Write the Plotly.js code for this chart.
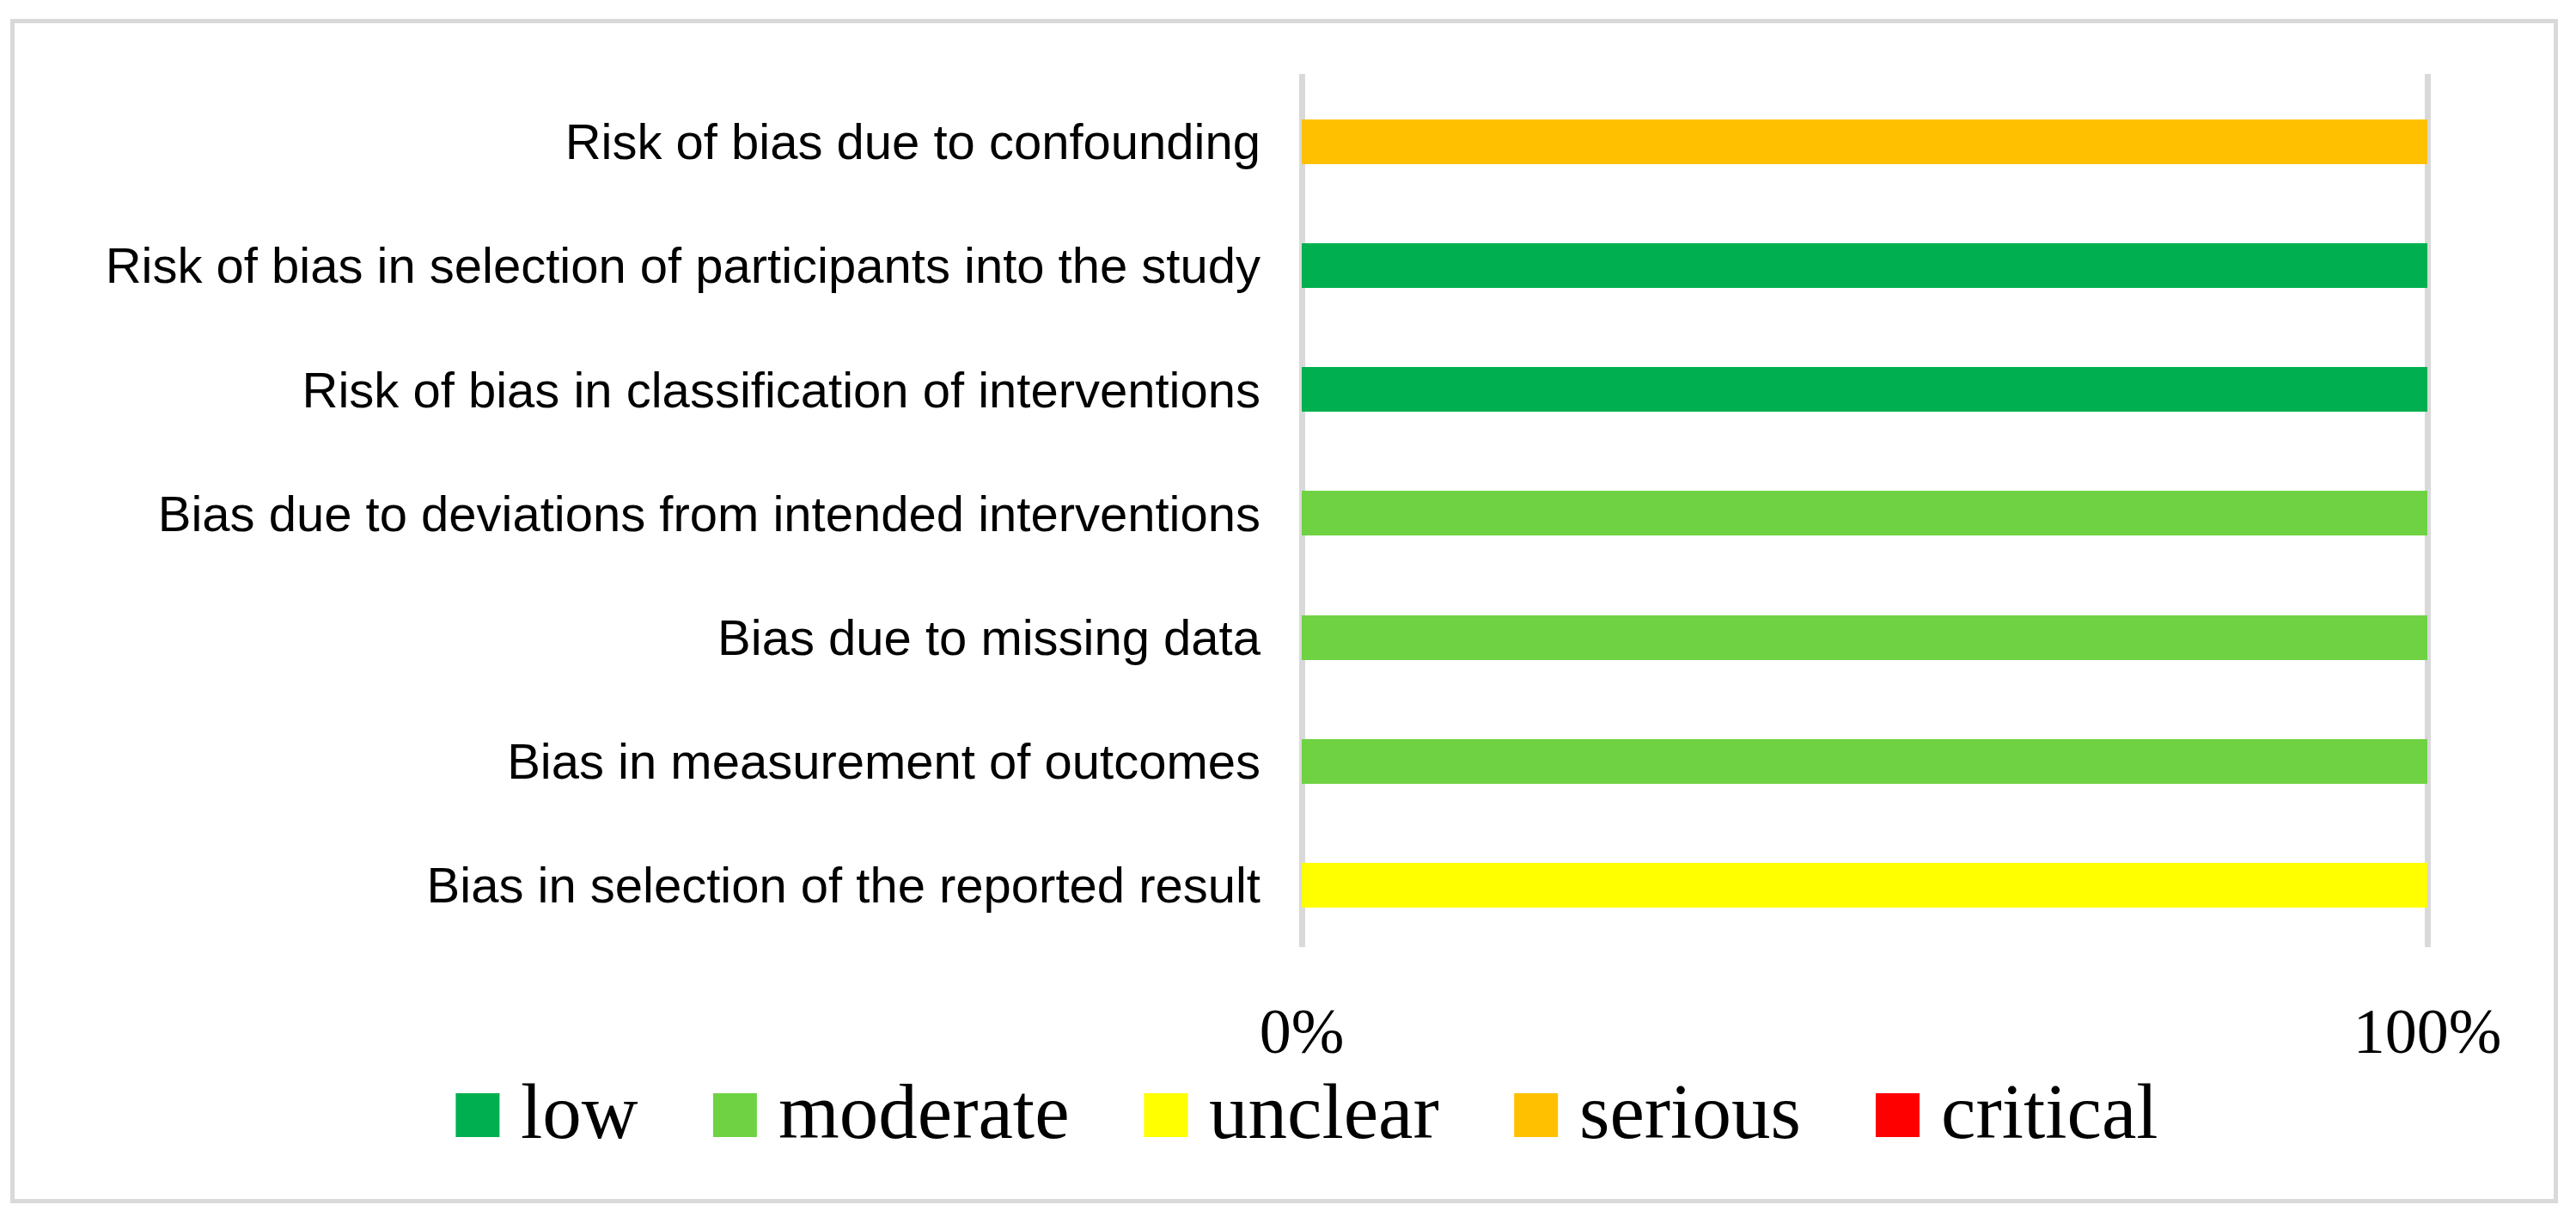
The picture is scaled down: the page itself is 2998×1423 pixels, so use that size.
<!DOCTYPE html>
<html>
<head>
<meta charset="utf-8">
<script src="https://cdn.plot.ly/plotly-3.0.1.min.js"></script>
<style>
  html, body { margin: 0; padding: 0; background: #ffffff; }
  #chart { width: 2998px; height: 1423px; }
</style>
</head>
<body>
<div id="chart"></div>
<script>
// ---- data ----
const categories = [
  "Risk of bias due to confounding",
  "Risk of bias in selection of participants into the study",
  "Risk of bias in classification of interventions",
  "Bias due to deviations from intended interventions",
  "Bias due to missing data",
  "Bias in measurement of outcomes",
  "Bias in selection of the reported result"
];
const seriesNames = ["low", "moderate", "unclear", "serious", "critical"];
const low      = [0, 100, 100, 0, 0, 0, 0];
const moderate = [0, 0, 0, 100, 100, 100, 0];
const unclear  = [0, 0, 0, 0, 0, 0, 100];
const serious  = [100, 0, 0, 0, 0, 0, 0];
const critical = [0, 0, 0, 0, 0, 0, 0];
const tickValues = [0, 100];
const tickLabels = ["0%", "100%"];

// ---- styles ----
const seriesValues = [low, moderate, unclear, serious, critical];
const seriesColors = ["#00b050", "#6fd243", "#ffff00", "#ffc000", "#ff0000"];

const W = 2998, H = 1423;
const plotL = 1505, plotR = 2835, plotT = 86, plotB = 1102;
const pw = plotR - plotL, ph = plotB - plotT;
const px2x = p => (p - plotL) / pw;
const px2y = p => (plotB - p) / ph;

const traces = seriesNames.map((name, i) => ({
  type: "bar",
  orientation: "h",
  name: name,
  y: categories,
  x: seriesValues[i],
  marker: { color: seriesColors[i], line: { width: 0 } },
  width: 0.36,
  showlegend: false,
  hoverinfo: "name+x"
}));

// ---- custom legend (large squares like the original) ----
const legFont = "Liberation Serif";
const legSize = 91;
const cv = document.createElement("canvas").getContext("2d");
cv.font = legSize + "px '" + legFont + "'";
const sq = 51, sqGap = 24, itemGap = 88;
const widths = seriesNames.map(n => cv.measureText(n).width);
let total = 0;
widths.forEach((w, i) => { total += sq + sqGap + w + (i < widths.length - 1 ? itemGap : 0); });
let cx = 1520.5 - total / 2;
const shapes = [];
const annotations = [];
const sqTop = 1272, sqBot = 1323, textMid = 1293;
seriesNames.forEach((n, i) => {
  shapes.push({
    type: "rect", xref: "paper", yref: "paper",
    x0: px2x(cx), x1: px2x(cx + sq), y0: px2y(sqBot), y1: px2y(sqTop),
    fillcolor: seriesColors[i], line: { width: 0 }, layer: "above"
  });
  annotations.push({
    xref: "paper", yref: "paper", x: px2x(cx + sq + sqGap), y: px2y(textMid),
    xanchor: "left", yanchor: "middle", showarrow: false, borderpad: 0,
    text: n, font: { family: legFont, size: legSize, color: "#000000" }
  });
  cx += sq + sqGap + widths[i] + itemGap;
});

// outer border
shapes.push({
  type: "rect", xref: "paper", yref: "paper",
  x0: px2x(14.5), x1: px2x(2974.5), y0: px2y(1397.5), y1: px2y(24.5),
  line: { color: "#d9d9d9", width: 5 }, fillcolor: "rgba(0,0,0,0)", layer: "below"
});

const unitPx = (2825 - 1515) / 100;
const band = (1030 - 165) / 6;
const layout = {
  width: W, height: H,
  margin: { l: plotL, r: W - plotR, t: plotT, b: H - plotB, pad: 0 },
  paper_bgcolor: "#ffffff",
  plot_bgcolor: "#ffffff",
  barmode: "stack",
  showlegend: false,
  xaxis: {
    range: [-(1515 - plotL) / unitPx, 100 + (plotR - 2825) / unitPx],
    tickmode: "array", tickvals: tickValues, ticktext: tickLabels,
    showgrid: true, gridcolor: "#d9d9d9", gridwidth: 7,
    zeroline: false, showline: false, ticks: "",
    ticklabelstandoff: 48,
    tickfont: { family: "Liberation Serif", size: 74, color: "#000000" },
    fixedrange: true
  },
  yaxis: {
    type: "category",
    categoryorder: "array", categoryarray: categories,
    range: [6.5, -0.5 - (plotB - plotT - 7 * band) / band],
    showgrid: false, zeroline: false, showline: false, ticks: "",
    ticklabelstandoff: 37,
    tickfont: { family: "Liberation Sans", size: 58, color: "#000000" },
    fixedrange: true
  },
  shapes: shapes,
  annotations: annotations
};

Plotly.newPlot("chart", traces, layout, { displayModeBar: false, staticPlot: true });
</script>
</body>
</html>
